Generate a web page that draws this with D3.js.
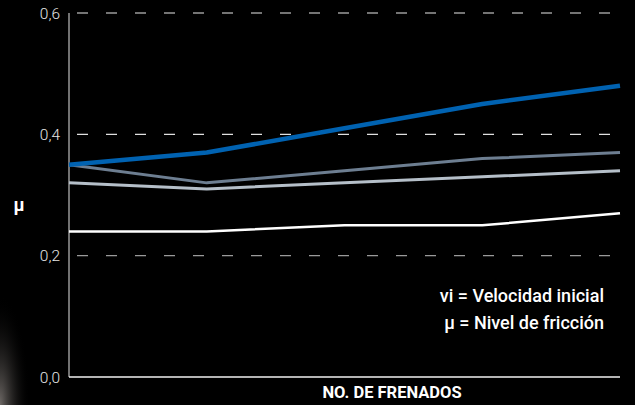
<!DOCTYPE html>
<html>
<head>
<meta charset="utf-8">
<script src="https://cdn.jsdelivr.net/npm/d3@7"></script>
<style>
  body { margin: 0; background: #000; }
  svg { display: block; }
  .tick-label { font-family: Roboto, sans-serif; font-weight: 300; font-size: 15.5px; fill: #e6e6e6; }
  .legend { font-family: Roboto, sans-serif; font-weight: 500; font-size: 18px; fill: #fff; }
</style>
</head>
<body>
<svg id="chart" width="635" height="405"></svg>
<script>
// braking tests, friction level per series
const frenados = [1, 2, 3, 4, 5];
const serieAzul = [0.35, 0.37, 0.41, 0.45, 0.48];
const serieGris = [0.35, 0.32, 0.34, 0.36, 0.37];
const serieClara = [0.32, 0.31, 0.32, 0.33, 0.34];
const serieBlanca = [0.24, 0.24, 0.25, 0.25, 0.27];
const yTicks = [0, 0.2, 0.4, 0.6];
const leyenda = ["vi = Velocidad inicial", "\u03bc = Nivel de fricción"];

const series = [
  { values: serieBlanca, color: "#ffffff", width: 2.5 },
  { values: serieClara, color: "#b5bfc9", width: 3 },
  { values: serieGris, color: "#6d7e91", width: 3 },
  { values: serieAzul, color: "#0062b1", width: 4.5 }
];

const svg = d3.select("#chart");

// faint photo glow in the lower left corner
const defs = svg.append("defs");
const grad = defs.append("radialGradient").attr("id", "glow")
  .attr("cx", 0.5).attr("cy", 0.5).attr("r", 0.5);
grad.append("stop").attr("offset", "0%").attr("stop-color", "#8a8480").attr("stop-opacity", 0.8);
grad.append("stop").attr("offset", "100%").attr("stop-color", "#000").attr("stop-opacity", 0);
svg.append("rect").attr("width", 635).attr("height", 405).attr("fill", "#000");
svg.append("ellipse").attr("cx", 0).attr("cy", 405).attr("rx", 30).attr("ry", 110).attr("fill", "url(#glow)");

const mLeft = 69, mRight = 620, mTop = 13, mBottom = 377;
const x = d3.scalePoint().domain(frenados).range([mLeft, mRight]);
const y = d3.scaleLinear().domain([0, 0.6]).range([mBottom, mTop]);

// dashed gridlines
svg.append("g").selectAll("line")
  .data(yTicks.filter(d => d > 0))
  .join("line")
  .attr("x1", mLeft).attr("x2", mRight + 2)
  .attr("y1", d => y(d)).attr("y2", d => y(d))
  .attr("stroke", d => d === 0.4 ? "#e0e0e0" : "#9a9a9a")
  .attr("stroke-width", 1.3)
  .attr("stroke-dasharray", "11 18")
  .attr("stroke-dashoffset", -8);

// y tick labels
svg.append("g").selectAll("text")
  .data(yTicks)
  .join("text")
  .attr("class", "tick-label")
  .attr("x", 60).attr("y", d => y(d) + 5.5)
  .attr("text-anchor", "end")
  .text(d => d3.format(".1f")(d).replace(".", ","));

// axes
svg.append("line").attr("x1", mLeft).attr("x2", mLeft).attr("y1", mTop).attr("y2", mBottom)
  .attr("stroke", "#b0b0b0").attr("stroke-width", 1.3);
svg.append("line").attr("x1", mLeft).attr("x2", mRight).attr("y1", mBottom).attr("y2", mBottom)
  .attr("stroke", "#f0f0f0").attr("stroke-width", 1.3);

// series lines
const line = d3.line().x((d, i) => x(frenados[i])).y(d => y(d));
svg.append("g").selectAll("path")
  .data(series)
  .join("path")
  .attr("d", d => line(d.values))
  .attr("fill", "none")
  .attr("stroke", d => d.color)
  .attr("stroke-width", d => d.width)
  .attr("stroke-linejoin", "round");

// axis titles
svg.append("text").attr("class", "legend")
  .attr("x", 19).attr("y", 211).attr("text-anchor", "middle")
  .style("font-weight", 700).style("font-size", "18px")
  .text("\u03bc");
svg.append("text").attr("class", "legend")
  .attr("x", 392).attr("y", 398).attr("text-anchor", "middle")
  .style("font-weight", 700).style("font-size", "16.5px")
  .text("NO. DE FRENADOS");

// legend
svg.append("g").selectAll("text")
  .data(leyenda)
  .join("text")
  .attr("class", "legend")
  .attr("x", 604).attr("y", (d, i) => 302 + i * 27)
  .attr("text-anchor", "end")
  .text(d => d);
</script>
</body>
</html>
